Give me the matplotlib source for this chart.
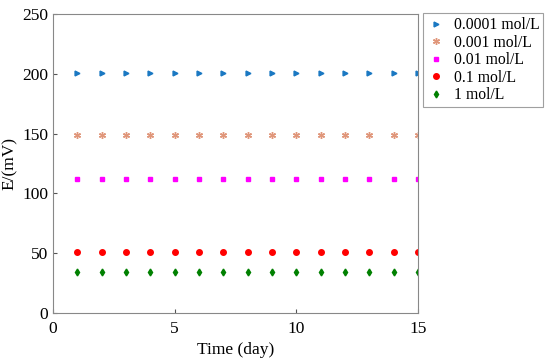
import matplotlib
matplotlib.use("Agg")
import matplotlib.pyplot as plt

plt.rcParams['font.family'] = ['Liberation Serif', 'DejaVu Serif']

days = list(range(1, 16))
labels = ['0.0001 mol/L', '0.001 mol/L', '0.01 mol/L', '0.1 mol/L', '1 mol/L']
values = [201, 149, 112, 51, 34]
markers = ['>', (6, 2, 0), 's', 'o', 'd']
colors = ['#1a78c2', '#e0967a', '#ff00ff', '#ff0000', '#008000']
sizes = [3.5, 5, 3.5, 4, 3.5]

fig = plt.figure(figsize=(5.5, 3.62), dpi=100)
ax = fig.add_axes([53/550, 1 - 313/362, 365/550, 299/362])

for lab, v, m, c, s in zip(labels, values, markers, colors, sizes):
    ax.plot(days, [v] * len(days), linestyle='none', marker=m, color=c,
            markersize=s, markeredgewidth=1, label=lab)

ax.set_xlim(0, 15)
ax.set_ylim(0, 250)
ax.set_xticks([0, 5, 10, 15])
ax.set_yticks([0, 50, 100, 150, 200, 250])
ax.tick_params(direction='in', labelsize=12.5, length=3, color='#555555')
ax.tick_params(axis='x', pad=6)
for sp in ax.spines.values():
    sp.set_color('#888888')
    sp.set_linewidth(0.8)
ax.set_xlabel('Time (day)', fontsize=12.5, labelpad=3)
ax.set_ylabel('E/(mV)', fontsize=12.5, labelpad=3)

leg = ax.legend(loc='upper left', bbox_to_anchor=(423/365 - 53/365, 1.003),
                frameon=True, fancybox=False, fontsize=11.3, handletextpad=0.5,
                borderaxespad=0, borderpad=0.25, labelspacing=0.1,
                handlelength=1.2)
leg.get_frame().set_edgecolor('#888888')
leg.get_frame().set_linewidth(0.8)

fig.savefig('out.png', dpi=100)
